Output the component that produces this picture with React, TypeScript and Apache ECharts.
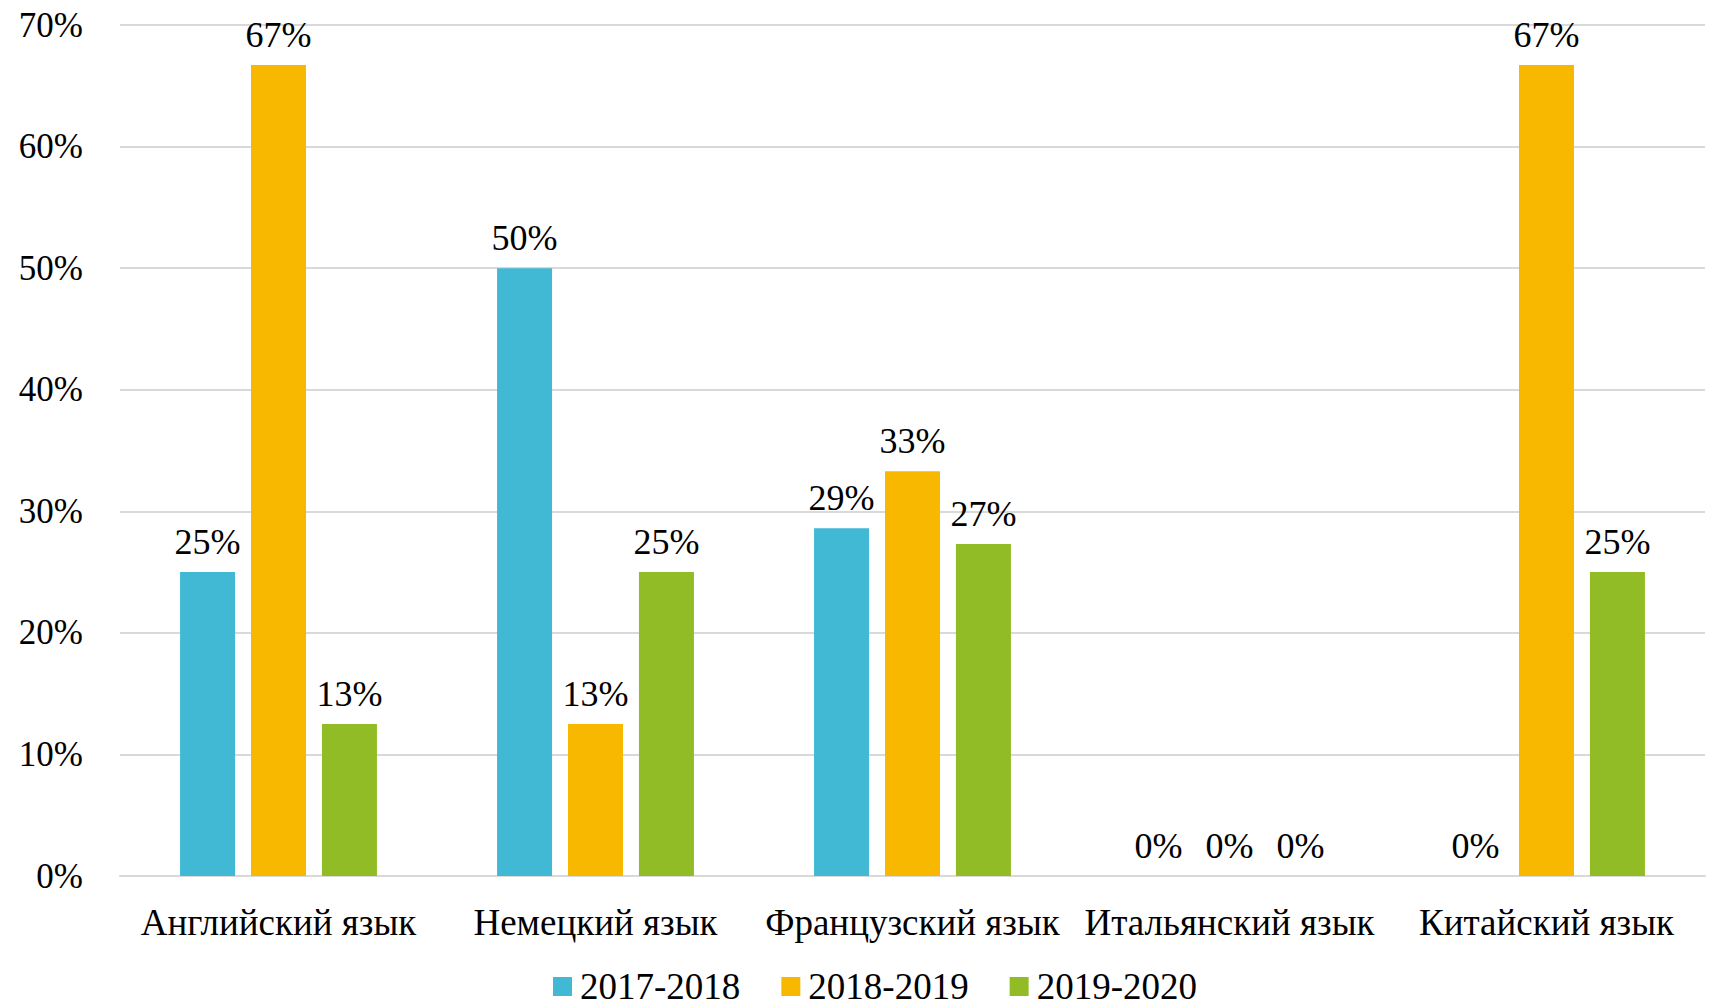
import React, { useEffect, useRef } from "react";
import * as echarts from "echarts";

const categories = [
  "Английский язык",
  "Немецкий язык",
  "Французский язык",
  "Итальянский язык",
  "Китайский язык",
];
const seriesNames = ["2017-2018", "2018-2019", "2019-2020"];
const values2017 = [25, 50, 28.6, 0, 0];
const values2018 = [66.7, 12.5, 33.3, 0, 66.7];
const values2019 = [12.5, 25, 27.3, 0, 25];
const colors = ["#41B9D4", "#F9B800", "#92BC25"];
const yTicks = { min: 0, max: 70, interval: 10 };

const FONT = '"Liberation Serif", "Times New Roman", serif';

export default function App() {
  const ref = useRef<HTMLDivElement>(null);
  useEffect(() => {
    if (!ref.current) return;
    const chart = echarts.init(ref.current, null, { renderer: "svg" });
    const allValues = [values2017, values2018, values2019];
    chart.setOption({
      animation: false,
      backgroundColor: "#ffffff",
      textStyle: { fontFamily: FONT },
      grid: { left: 120, right: 12, top: 25, bottom: 129, containLabel: false },
      legend: {
        data: seriesNames,
        left: 548,
        top: 963,
        itemWidth: 19,
        itemHeight: 19,
        itemGap: 41,
        icon: "rect",
        textStyle: {
          fontFamily: FONT,
          fontSize: 37,
          lineHeight: 30,
          color: "#000",
          padding: [0, 0, 0, 3],
        },
      },
      xAxis: {
        type: "category",
        data: categories,
        axisLine: { show: true, lineStyle: { color: "#d9d9d9", width: 2 } },
        axisTick: { show: false },
        axisLabel: {
          fontFamily: FONT,
          fontSize: 37,
          color: "#000",
          margin: 28,
          interval: 0,
        },
      },
      yAxis: {
        type: "value",
        min: yTicks.min,
        max: yTicks.max,
        interval: yTicks.interval,
        axisLine: { show: false },
        axisTick: { show: false },
        splitLine: { lineStyle: { color: "#d9d9d9", width: 2 } },
        axisLabel: {
          fontFamily: FONT,
          fontSize: 35,
          color: "#000",
          margin: 37,
          formatter: (v: number) => `${v}%`,
        },
      },
      series: seriesNames.map((name, i) => ({
        name,
        type: "bar",
        data: allValues[i],
        barWidth: 55,
        barGap: "29%",
        itemStyle: { color: colors[i] },
        label: {
          show: true,
          position: "top",
          distance: 12,
          fontFamily: FONT,
          fontSize: 36,
          color: "#000",
          formatter: (p: any) => `${Math.round(p.value)}%`,
        },
      })),
    });
    return () => chart.dispose();
  }, []);
  return (
    <div
      ref={ref}
      style={{ position: "fixed", left: 0, top: 0, width: 1717, height: 1005 }}
    />
  );
}
